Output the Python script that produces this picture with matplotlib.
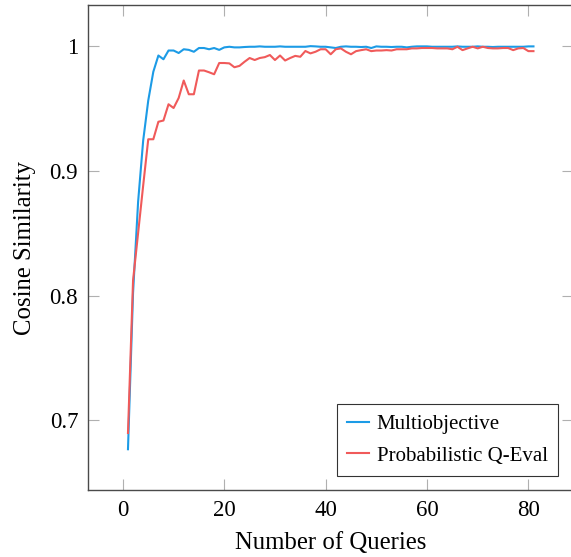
import matplotlib
matplotlib.use('Agg')
import matplotlib.pyplot as plt

#
# data
#
queries = list(range(1, 82))

multiobjective = [
    0.677, 0.802, 0.875, 0.924, 0.956, 0.979, 0.992, 0.989, 0.996, 0.996,
    0.994, 0.997, 0.9965, 0.995, 0.998, 0.998, 0.997, 0.998, 0.9965, 0.9985,
    0.999, 0.9985, 0.9985, 0.9988, 0.999, 0.999, 0.9993, 0.999, 0.999, 0.999,
    0.9993, 0.999, 0.999, 0.999, 0.999, 0.999, 0.9995, 0.9993, 0.999, 0.999,
    0.9985, 0.998, 0.999, 0.9993, 0.999, 0.999, 0.9988, 0.999, 0.998, 0.9993,
    0.999, 0.999, 0.9988, 0.999, 0.999, 0.9985, 0.999, 0.9993, 0.9993, 0.9993,
    0.999, 0.999, 0.999, 0.999, 0.999, 0.9993, 0.999, 0.999, 0.999, 0.9993,
    0.999, 0.999, 0.9988, 0.999, 0.999, 0.999, 0.999, 0.999, 0.999, 0.9993,
    0.9993,
]

probabilistic = [
    0.690, 0.812, 0.850, 0.888, 0.925, 0.925, 0.939, 0.940, 0.953, 0.950,
    0.958, 0.972, 0.961, 0.961, 0.980, 0.980, 0.9786, 0.977, 0.986, 0.986,
    0.9857, 0.9826, 0.9837, 0.987, 0.990, 0.9884, 0.990, 0.9907, 0.9924, 0.9884,
    0.992, 0.988, 0.990, 0.9917, 0.991, 0.9956, 0.9937, 0.995, 0.997, 0.997,
    0.993, 0.997, 0.9977, 0.995, 0.993, 0.9955, 0.9963, 0.997, 0.9955, 0.996,
    0.996, 0.9963, 0.996, 0.997, 0.997, 0.997, 0.9977, 0.9977, 0.998, 0.998,
    0.998, 0.9977, 0.9977, 0.9977, 0.997, 0.999, 0.9963, 0.9977, 0.999, 0.9977,
    0.999, 0.998, 0.9977, 0.9977, 0.998, 0.998, 0.9963, 0.9977, 0.998, 0.9955,
    0.9955,
]

series_names = ['Multiobjective', 'Probabilistic Q-Eval']
series_colors = ['#1C9BE6', '#F05A5A']

xticks = [0, 20, 40, 60, 80]
yticks = [0.7, 0.8, 0.9, 1.0]
ytick_labels = ['0.7', '0.8', '0.9', '1']

#
#
#
plt.rcParams['font.family'] = ['Liberation Serif', 'DejaVu Serif']

fig = plt.figure(figsize=(5.71, 5.57), dpi=100)
ax = fig.add_axes([0.154, 0.1194, 0.8495, 0.8716])

for vals, name, col in zip([multiobjective, probabilistic], series_names, series_colors):
    ax.plot(queries, vals, color=col, linewidth=1.5, label=name)

ax.set_xlim(-6.9, 88.8)
ax.set_ylim(0.644, 1.0324)
ax.set_xticks(xticks)
ax.set_yticks(yticks)
ax.set_yticklabels(ytick_labels)

ax.tick_params(direction='in', length=8, width=0.8, color='#b0b0b0',
               labelsize=16.5, top=True, right=True, pad=7)
for sp in ax.spines.values():
    sp.set_color('#4a4a4a')
    sp.set_linewidth(1.0)

ax.set_xlabel('Number of Queries', fontsize=17.8, labelpad=8)
ax.set_ylabel('Cosine Similarity', fontsize=17.8, labelpad=10)

leg = ax.legend(loc='lower right', bbox_to_anchor=(0.969, 0.030), fontsize=15,
                frameon=True, fancybox=False, edgecolor='black', handlelength=1.07,
                handletextpad=0.35, borderpad=0.5, labelspacing=0.55, borderaxespad=0)
leg.get_frame().set_linewidth(0.8)

fig.savefig('out.png', dpi=100)
